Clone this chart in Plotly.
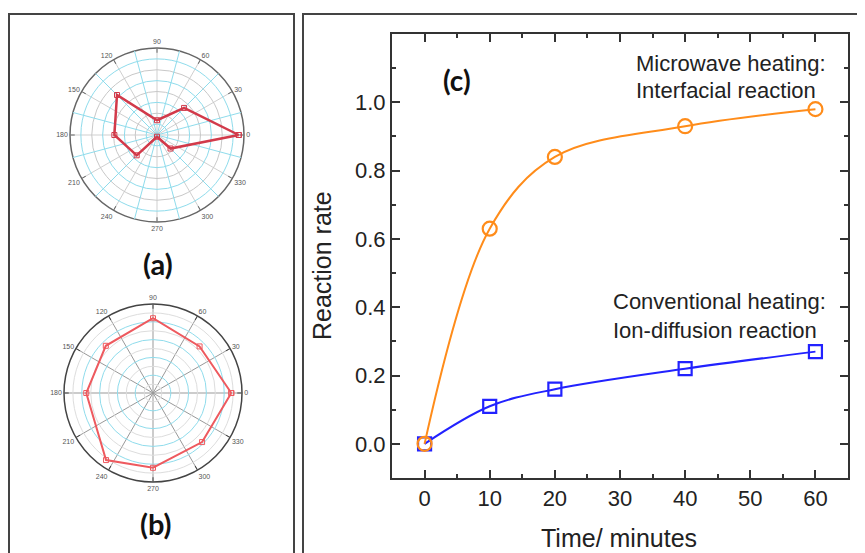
import plotly.graph_objects as go

# ---- data ----
time_min = [0, 10, 20, 40, 60]
microwave_rate = [0.0, 0.63, 0.84, 0.93, 0.98]
conventional_rate = [0.0, 0.11, 0.16, 0.22, 0.27]

polar_a_theta = [0, 45, 90, 135, 180, 225, 270, 315]
polar_a_r = [0.94, 0.44, 0.17, 0.65, 0.49, 0.33, 0.02, 0.22]

polar_b_theta = [0, 45, 90, 135, 180, 235, 270, 315]
polar_b_r = [0.88, 0.74, 0.84, 0.75, 0.75, 0.92, 0.84, 0.78]

angle_labels = [str(a) for a in range(0, 360, 30)]
y_tickvals = [0.0, 0.2, 0.4, 0.6, 0.8, 1.0]
x_tickvals = [0, 10, 20, 30, 40, 50, 60]

W, H = 865, 553
OFF = 8  # page body margin of the browser


def px_x(v):
    return (v - OFF) / W


def px_y(v):
    return 1 - (v - OFF) / H


fig = go.Figure()

# ---- main chart (c) ----
fig.add_trace(go.Scatter(
    x=time_min, y=conventional_rate, mode="lines+markers",
    line=dict(color="#2222ff", width=2, shape="spline", smoothing=1.0),
    marker=dict(symbol="square-open", size=13, color="#2222ff", line=dict(width=2.2)),
    xaxis="x", yaxis="y", showlegend=False))
fig.add_trace(go.Scatter(
    x=time_min, y=microwave_rate, mode="lines+markers",
    line=dict(color="#ff8c1a", width=2, shape="spline", smoothing=1.0),
    marker=dict(symbol="circle-open", size=14, color="#ff8c1a", line=dict(width=2.2)),
    xaxis="x", yaxis="y", showlegend=False))


def closed(th, r):
    return th + th[:1], r + r[:1]


ta, ra = closed(polar_a_theta, polar_a_r)
tb, rb = closed(polar_b_theta, polar_b_r)

# invisible copies so that the base (gray-grid) polar subplots get drawn
fig.add_trace(go.Scatterpolar(theta=ta, r=ra, mode="lines", subplot="polar",
                              opacity=0, hoverinfo="skip", showlegend=False))
fig.add_trace(go.Scatterpolar(theta=tb, r=rb, mode="lines", subplot="polar3",
                              opacity=0, hoverinfo="skip", showlegend=False))

fig.add_trace(go.Scatterpolar(
    theta=ta, r=ra, mode="lines+markers", subplot="polar2",
    line=dict(color="#d23a4a", width=2.5),
    marker=dict(symbol="square-open", size=5, color="#d23a4a"),
    showlegend=False))
fig.add_trace(go.Scatterpolar(
    theta=tb, r=rb, mode="lines+markers", subplot="polar4",
    line=dict(color="#ee5a5f", width=2),
    marker=dict(symbol="square-open", size=5, color="#ee5a5f"),
    showlegend=False))

axis_font = dict(family="Liberation Sans, Arial, sans-serif", size=22, color="#222")
title_font = dict(family="Liberation Sans, Arial, sans-serif", size=25, color="#222")

fig.update_layout(
    width=W, height=H,
    margin=dict(l=0, r=0, t=0, b=0, autoexpand=False),
    paper_bgcolor="white", plot_bgcolor="white",
    xaxis=dict(
        domain=[px_x(392), px_x(848)], range=[-5, 65],
        tickvals=x_tickvals, ticks="inside", ticklen=8, tickwidth=2, tickcolor="#333",
        minor=dict(ticks="inside", dtick=5, tick0=0, ticklen=4, tickwidth=2, tickcolor="#333"),
        showline=True, linecolor="#333", linewidth=2, mirror="ticks",
        showgrid=False, zeroline=False, tickfont=axis_font,
        anchor="y"),
    yaxis=dict(
        domain=[px_y(478), px_y(34)], range=[-0.1, 1.2],
        tickvals=y_tickvals, tickformat=".1f",
        ticks="inside", ticklen=8, tickwidth=2, tickcolor="#333",
        minor=dict(ticks="inside", dtick=0.1, tick0=0, ticklen=4, tickwidth=2, tickcolor="#333"),
        showline=True, linecolor="#333", linewidth=2, mirror="ticks",
        showgrid=False, zeroline=False, tickfont=axis_font,
        anchor="x"),
)

small_font = dict(family="Liberation Sans, Arial, sans-serif", size=7, color="#555")


def base_polar(dom_x, dom_y, gridcolor, rgrid, spoke_color, outer_color):
    return dict(
        domain=dict(x=dom_x, y=dom_y), bgcolor="white",
        angularaxis=dict(
            tickmode="array", tickvals=list(range(0, 360, 30)), ticktext=angle_labels,
            rotation=0, direction="counterclockwise",
            showline=True, linecolor=outer_color, linewidth=1.5,
            ticks="inside", ticklen=4, tickcolor=outer_color,
            showgrid=True, gridcolor=spoke_color, gridwidth=1,
            tickfont=small_font),
        radialaxis=dict(
            range=[0, 1], showticklabels=False, ticks="", showline=False,
            tickmode="array", tickvals=rgrid, showgrid=True,
            gridcolor=gridcolor, gridwidth=1),
    )


def overlay_polar(dom_x, dom_y, spoke_vals, spoke_color, rvals, rcolor):
    return dict(
        domain=dict(x=dom_x, y=dom_y), bgcolor="rgba(0,0,0,0)",
        angularaxis=dict(
            tickmode="array", tickvals=spoke_vals, showticklabels=False, ticks="",
            rotation=0, direction="counterclockwise", showline=False,
            showgrid=bool(spoke_vals), gridcolor=spoke_color, gridwidth=1.2),
        radialaxis=dict(
            range=[0, 1], showticklabels=False, ticks="", showline=False,
            tickmode="array", tickvals=rvals, showgrid=True,
            gridcolor=rcolor, gridwidth=1.2),
    )


ax_dom = [px_x(70), px_x(244)]
ay_dom = [px_y(222), px_y(48)]
bx_dom = [px_x(64), px_x(242)]
by_dom = [px_y(482), px_y(304)]

fig.update_layout(
    polar=base_polar(ax_dom, ay_dom, "#c8c8c8", [0.25, 0.5, 0.75], "#cfcfcf", "#666"),
    polar2=overlay_polar(ax_dom, ay_dom, list(range(15, 360, 30)), "#8fdcec",
                         [0.125, 0.375, 0.625, 0.875], "#8fdcec"),
    polar3=base_polar(bx_dom, by_dom, "#dddddd", [0.1, 0.3, 0.5, 0.7, 0.9], "#999999", "#444"),
    polar4=overlay_polar(bx_dom, by_dom, [], "#ffffff",
                         [0.2, 0.4, 0.6, 0.8], "#8fdcec"),
)

# ---- panel boxes ----
fig.add_shape(type="rect", xref="paper", yref="paper",
              x0=px_x(9), x1=px_x(294), y0=-0.05, y1=px_y(14),
              line=dict(color="#444", width=2), fillcolor="rgba(0,0,0,0)")
fig.add_shape(type="rect", xref="paper", yref="paper",
              x0=px_x(303), x1=1.05, y0=-0.05, y1=px_y(14),
              line=dict(color="#444", width=2), fillcolor="rgba(0,0,0,0)")

label_font = dict(family="Lato, Open Sans, sans-serif", size=29, color="#111")
note_font = dict(family="Liberation Sans, Arial, sans-serif", size=22, color="#222")

annos = [
    dict(text="<b>(a)</b>", x=px_x(158), y=px_y(264), xanchor="center", yanchor="middle", font=label_font),
    dict(text="<b>(b)</b>", x=px_x(156), y=px_y(523), xanchor="center", yanchor="middle", font=label_font),
    dict(text="<b>(c)</b>", x=px_x(457), y=px_y(80), xanchor="center", yanchor="middle",
         font=dict(family="Lato, Open Sans, sans-serif", size=28, color="#111")),
    dict(text="Microwave heating:", x=px_x(634), y=px_y(63), xanchor="left", yanchor="middle", font=note_font),
    dict(text="Interfacial reaction", x=px_x(634), y=px_y(90), xanchor="left", yanchor="middle", font=note_font),
    dict(text="Conventional heating:", x=px_x(611), y=px_y(302), xanchor="left", yanchor="middle", font=note_font),
    dict(text="Ion-diffusion reaction", x=px_x(611), y=px_y(330), xanchor="left", yanchor="middle", font=note_font),
    dict(text="Reaction rate", x=px_x(322), y=px_y(266), xanchor="center", yanchor="middle",
         textangle=-90, font=title_font),
    dict(text="Time/ minutes", x=px_x(619), y=px_y(538), xanchor="center", yanchor="middle", font=title_font),
]
for a in annos:
    fig.add_annotation(xref="paper", yref="paper", showarrow=False, **a)

fig.write_html("out.html")
